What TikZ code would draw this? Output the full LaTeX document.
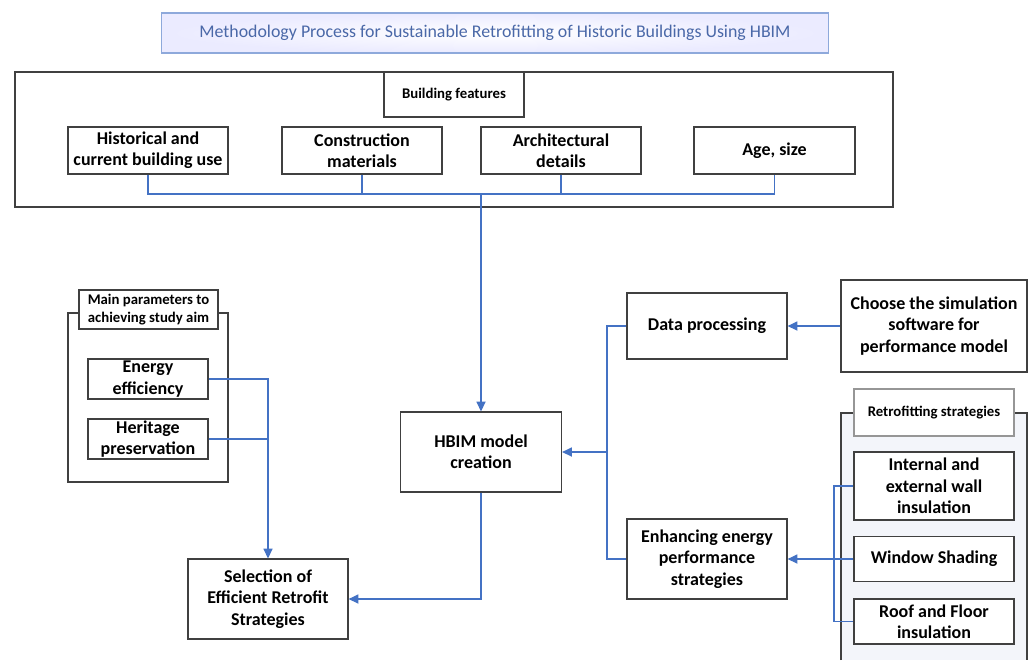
\documentclass[tikz,border=0pt]{standalone}
\usepackage{fontspec}
\setmainfont{Carlito}
\usepackage{xcolor}
\usetikzlibrary{positioning,arrows.meta}

\definecolor{linkblue}{HTML}{4472C4}
\definecolor{edgegray}{HTML}{404040}
\definecolor{titleblue}{HTML}{4A68A8}
\definecolor{titleedge}{HTML}{8EA9DB}
\definecolor{paleback}{HTML}{F3F5FA}

\tikzset{
  box/.style={draw=edgegray, line width=0.8pt, fill=white, align=center, inner sep=0pt,
    font=\bfseries\fontsize{12.8}{15.2}\selectfont},
  tag/.style={box, font=\bfseries\fontsize{10.5}{12.8}\selectfont},
  frame/.style={draw=edgegray, line width=0.8pt},
  link/.style={draw=linkblue, line width=0.9pt},
  arr/.style={link, -{Triangle[length=7pt,width=6.5pt]}}
}

\begin{document}
\begin{tikzpicture}[x=0.025cm,y=-0.025cm]
  \useasboundingbox (0,0) rectangle (1030,660);

  \node[draw=titleedge, line width=0.8pt, inner color=white, outer color=blue!8,
    minimum width=16.65cm, minimum height=1cm, text=titleblue,
    font=\fontsize{12.7}{15}\selectfont] (title) at (495,33)
    {Methodology Process for Sustainable Retrofitting of Historic Buildings Using HBIM};

  \draw[frame] (15,72) rectangle (893,207);
  \node[tag, minimum width=3.5cm, minimum height=1.125cm] (featlabel) at (454,94.5) {Building features};
  \node[box, minimum width=4cm, minimum height=1.175cm] (hist) at (148,150.5) {Historical and\\current building use};
  \node[box, minimum width=4cm, minimum height=1.175cm] (constr) at (362,150.5) {Construction\\materials};
  \node[box, minimum width=4cm, minimum height=1.175cm] (arch) at (561,150.5) {Architectural\\details};
  \node[box, minimum width=4.025cm, minimum height=1.175cm] (age) at (774.5,150.5) {Age, size};
  \coordinate (bus) at (481,194);

  \node[box, minimum width=4.025cm, minimum height=2cm] (hbim) at (481,452) {HBIM model\\creation};
  \node[box, minimum width=4cm, minimum height=2cm] (select) at (268,599) {Selection of\\Efficient Retrofit\\Strategies};

  \draw[frame] (68,313) rectangle (228,482);
  \node[tag, minimum width=3.475cm, minimum height=0.975cm] (paramlabel) at (148.5,309.5) {Main parameters to\\achieving study aim};
  \node[box, minimum width=3cm, minimum height=1cm] (energy) at (148,379) {Energy\\efficiency};
  \node[box, minimum width=3cm, minimum height=1cm] (heritage) at (148,439) {Heritage\\preservation};

  \node[box, minimum width=4cm, minimum height=1.65cm] (data) at (707,326) {Data processing};
  \node[box, minimum width=4.65cm, minimum height=2.3cm] (choose) at (934,326) {Choose the simulation\\software for\\performance model};
  \node[box, minimum width=4cm, minimum height=2cm] (enh) at (707,559) {Enhancing energy\\performance\\strategies};
  \coordinate (split) at (607,452);

  \fill[paleback] (841,660) -- (841,413) -- (1027,413) -- (1027,660) -- cycle;
  \draw[frame] (841,660) -- (841,413) -- (1027,413) -- (1027,660);
  \node[tag, draw=edgegray!55, fill=white, minimum width=4cm, minimum height=1.175cm] (retrolabel) at (934,412.5) {Retrofitting strategies};
  \node[box, minimum width=4cm, minimum height=1.7cm] (internal) at (934,486) {Internal and\\external wall\\insulation};
  \node[box, minimum width=4cm, minimum height=1.125cm] (window) at (934,559) {Window Shading};
  \node[box, minimum width=4cm, minimum height=1.125cm] (roof) at (934,621.5) {Roof and Floor\\insulation};
  \coordinate (rjoin) at (834,559);

  \draw[link] (hist.south) |- (bus) -| (age.south);
  \draw[link] (constr.south) -- (constr.south |- bus);
  \draw[link] (arch.south) -- (arch.south |- bus);
  \draw[arr] (bus) -- (hbim.north);
  \draw[arr] (hbim.south) |- (select.east);
  \draw[arr] (energy.east) -| (select.north);
  \draw[link] (heritage.east) -- (heritage.east -| select.north);
  \draw[arr] (choose.west) -- (data.east);
  \draw[link] (data.west) -| (split) |- (enh.west);
  \draw[arr] (split) -- (hbim.east);
  \draw[link] (internal.west) -| (rjoin) |- (roof.west);
  \draw[arr] (window.west) -- (enh.east);
\end{tikzpicture}
\end{document}
